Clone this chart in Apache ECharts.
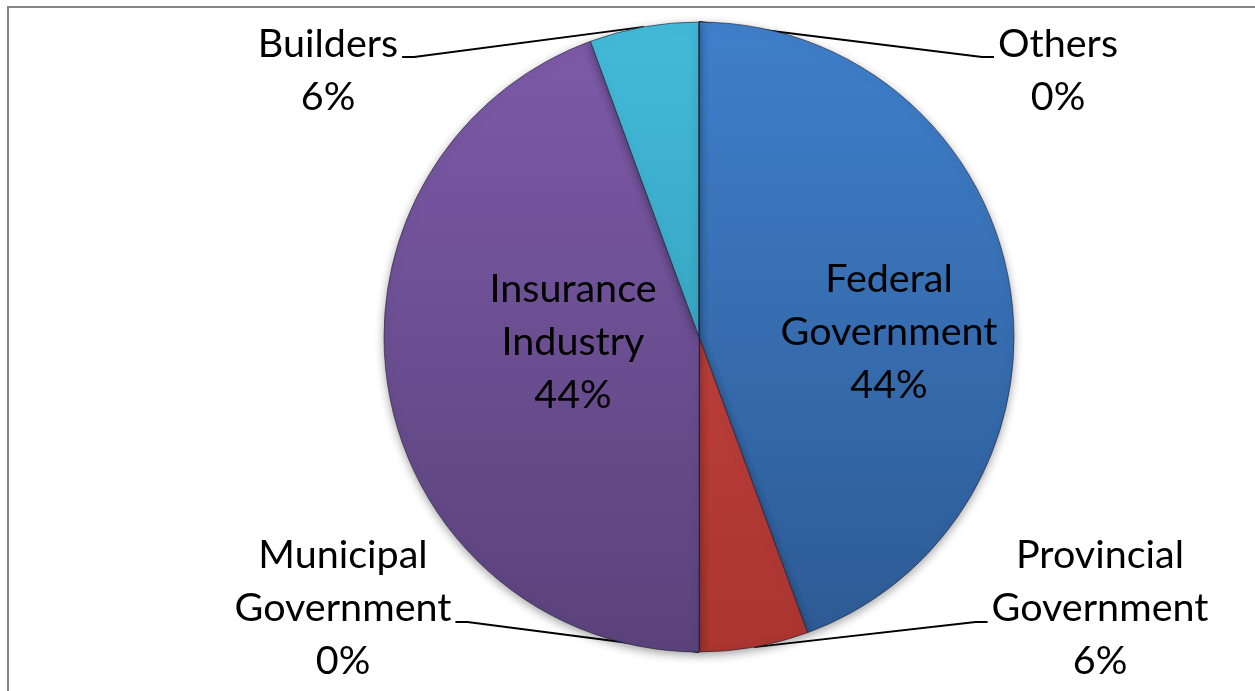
<!DOCTYPE html>
<html>
<head>
<meta charset="utf-8">
<title>Funding shares</title>
<script src="https://cdn.jsdelivr.net/npm/echarts@6/dist/echarts.min.js"></script>
<style>
  html, body { margin: 0; padding: 0; background: #ffffff; }
  #chart { width: 1255px; height: 691px; }
</style>
</head>
<body>
<div id="chart"></div>
<script>
// Share of funding by source, in percent (clockwise from 12 o'clock)
const categories = [
  'Federal\nGovernment',
  'Provincial\nGovernment',
  'Municipal\nGovernment',
  'Insurance\nIndustry',
  'Builders',
  'Others'
];
const shares = [44.4, 5.6, 0, 44.4, 5.6, 0];

// Slice colours: [lighter top, darker bottom]
const sliceColors = [
  ['#3f7fcb', '#2d5a93'],
  ['#cc4843', '#aa3531'],
  ['#8064a2', '#5b437c'],
  ['#7d5ba9', '#5a427b'],
  ['#43bad9', '#2d93b0'],
  ['#f79646', '#c77430']
];

const CX = 699, CY = 337, R = 315;

// Where each label block sits; outside labels get a leader line that
// joins the label on the given side.
const labelPlacement = [
  { x: 889, y: 332 },
  { x: 1100, y: 608, side: 'left', dy: 14 },
  { x: 343, y: 608, side: 'right', dy: 14 },
  { x: 573, y: 342 },
  { x: 328, y: 71, side: 'right', dy: -14 },
  { x: 1058, y: 71, side: 'left', dy: -14 }
];

function gradient(pair) {
  return {
    type: 'linear', global: true,
    x: 0, y: CY - R, x2: 0, y2: CY + R,
    colorStops: [{ offset: 0, color: pair[0] }, { offset: 1, color: pair[1] }]
  };
}

const data = categories.map(function (name, i) {
  const outside = !!labelPlacement[i].side;
  return {
    name: name,
    value: shares[i],
    itemStyle: { color: gradient(sliceColors[i]) },
    label: { position: outside ? 'outside' : 'inside' },
    labelLine: { show: outside }
  };
});

const chart = echarts.init(document.getElementById('chart'), null, { renderer: 'canvas' });

chart.setOption({
  backgroundColor: '#ffffff',
  animation: false,
  graphic: [{
    type: 'rect',
    z: -10,
    shape: { x: 8, y: 7, width: 1400, height: 800 },
    style: { fill: 'none', stroke: '#878787', lineWidth: 2 }
  }],
  series: [{
    type: 'pie',
    center: [CX, CY],
    radius: R,
    startAngle: 90,
    clockwise: true,
    percentPrecision: 0,
    avoidLabelOverlap: false,
    data: data,
    itemStyle: {
      borderColor: 'rgba(30,30,50,0.6)',
      borderWidth: 1,
      shadowBlur: 10,
      shadowOffsetY: 3,
      shadowColor: 'rgba(0,0,0,0.35)'
    },
    label: {
      show: true,
      formatter: '{b}\n{d}%',
      fontFamily: 'Lato',
      fontSize: 39.5,
      lineHeight: 53,
      color: '#000000'
    },
    labelLine: {
      length: 20,
      length2: 20,
      lineStyle: { color: '#000000', width: 1.8 }
    },
    labelLayout: function (params) {
      const p = labelPlacement[params.dataIndex];
      const out = { x: p.x, y: p.y, align: 'center', verticalAlign: 'middle' };
      if (p.side && params.labelLinePoints) {
        const start = params.labelLinePoints[0];
        const halfW = params.labelRect.width / 2;
        const yy = p.y + p.dy;
        let end, elbow;
        if (p.side === 'left') {
          end = [p.x - halfW - 4, yy];
          elbow = [end[0] - 12, yy];
        } else {
          end = [p.x + halfW + 4, yy];
          elbow = [end[0] + 12, yy];
        }
        out.labelLinePoints = [start, elbow, end];
      }
      return out;
    }
  }]
});
</script>
</body>
</html>
